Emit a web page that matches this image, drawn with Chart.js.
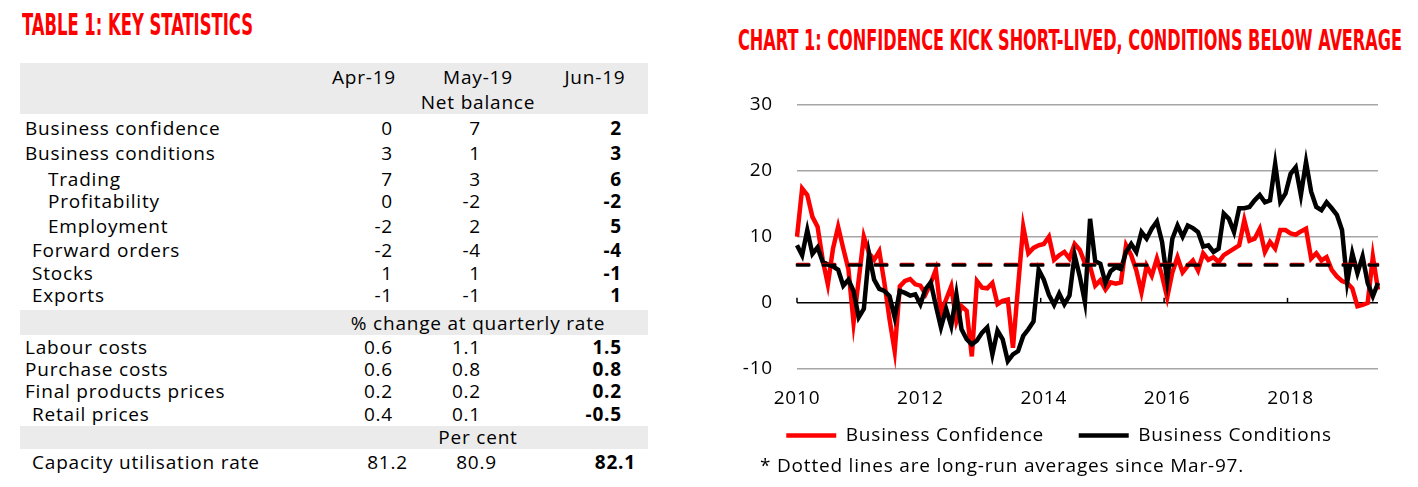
<!DOCTYPE html>
<html>
<head>
<meta charset="utf-8">
<script src="https://cdn.jsdelivr.net/npm/chart.js@4.4.1/dist/chart.umd.min.js"></script>
<style>
body { margin:0; width:1418px; height:487px; background:#fff; position:relative; overflow:hidden; font-family:"Open Sans", sans-serif; color:#000; }
.ttl { position:absolute; color:#ff0000; font-family:"Liberation Sans Narrow","DejaVu Sans Condensed",sans-serif; font-weight:bold; white-space:nowrap; transform-origin:0 0; line-height:1; }
.band { position:absolute; left:20px; width:628px; background:#ebebeb; }
.txt { position:absolute; font-size:19px; letter-spacing:0.8px; line-height:22px; white-space:nowrap; }
#wrap { position:absolute; left:740px; top:69px; width:678px; height:386px; }
#note { position:absolute; left:760px; top:452px; font-size:19px; letter-spacing:0.8px; white-space:nowrap; }
</style>
</head>
<body>
<div class="ttl" data-w="231" style="left:22px; top:10px; font-size:30px;">TABLE 1: KEY STATISTICS</div>
<div class="ttl" data-w="664" style="left:738px; top:26px; font-size:29px;">CHART 1: CONFIDENCE KICK SHORT-LIVED, CONDITIONS BELOW AVERAGE</div>
<div id="table"></div>
<div id="wrap"><canvas id="chart1"></canvas></div>
<div id="note">* Dotted lines are long-run averages since Mar-97.</div>
<script>
// table
const colHeads = ['Apr-19', 'May-19', 'Jun-19'];
const bandTexts = ['Net balance', '% change at quarterly rate', 'Per cent'];
const rowLabels = ['Business confidence', 'Business conditions', 'Trading', 'Profitability', 'Employment',
    'Forward orders', 'Stocks', 'Exports', 'Labour costs', 'Purchase costs', 'Final products prices',
    'Retail prices', 'Capacity utilisation rate'];
const apr19 = ['0', '3', '7', '0', '-2', '-2', '1', '-1', '0.6', '0.6', '0.2', '0.4', '81.2'];
const may19 = ['7', '1', '3', '-2', '2', '-4', '1', '-1', '1.1', '0.8', '0.2', '0.1', '80.9'];
const jun19 = ['2', '3', '6', '-2', '5', '-4', '-1', '1', '1.5', '0.8', '0.2', '-0.5', '82.1'];

// chart
const years = ['2010', '2011', '2012', '2013', '2014', '2015', '2016', '2017', '2018', '2019'];
const tickYears = ['2010', '2012', '2014', '2016', '2018'];
const confidence = [
    10, 17.3, 16.3, 13, 11.5, 6.5, 2.8, 8.2, 11.5, 8.2, 5.1, -3,          // 2010
    3.5, 10, 7.5, 6.5, 7.8, 3, -2.5, -7.3, 2.5, 3.3, 3.6, 2.8,           // 2011
    2.6, 1.3, 3, 5, -1.5, 0.5, 2.5, -2.8, -0.5, -1.2, -8.1, 3.3,         // 2012
    2.3, 2.2, 3, -0.2, 0.3, 0.5, -6.8, 2.5, 11.5, 7.5, 8.3, 8.7,         // 2013
    8.9, 10, 6.5, 7.2, 7.7, 6.7, 8.9, 8, 6, 5.5, 2.6, 3.4,               // 2014
    2, 3.1, 2.9, 3.1, 8.7, 7.2, 4.9, 1.6, 5.6, 4.1, 6.7, 4.1,            // 2015
    0.8, 4.6, 6.9, 4.6, 5.6, 6.4, 4.9, 7.5, 6.5, 6.9, 6.2, 7.2,          // 2016
    7.7, 8.2, 8.7, 12.5, 9.4, 9.7, 11.2, 7.7, 9.2, 8.2, 11, 11,          // 2017
    10.5, 10.3, 10.8, 11.2, 6.7, 7.5, 6.4, 6.9, 5, 4, 3.3, 3,            // 2018
    2.2, -0.5, -0.3, 0, 7, 2                                             // 2019
];
const conditions = [
    8.7, 7.2, 11, 7.4, 8.4, 6.2, 5.8, 5.5, 5, 2.6, 3.5, 1.8,
    -2.2, -0.9, 7.4, 3.5, 2.1, 1.8, 1, -2.2, 1.8, 1.5, 1.1, 1.3,
    -0.2, 2.1, 3.1, -0.4, -3.7, -0.9, -3.5, 1.3, -4, -5.5, -6.3, -5.7,
    -4.5, -3.7, -7.8, -4.2, -5.5, -8.8, -7.8, -7.3, -5, -4, -2.8, 5,
    3.5, 1.2, -0.3, 1.4, -0.2, 1.1, 7.2, 4, 0.1, 12.7, 6.3, 5.9,
    3, 4.8, 5.4, 5.1, 7.7, 8.9, 7.7, 10.7, 9.7, 11.2, 12.3, 9.2,
    3.4, 9.7, 11.7, 10, 11.7, 11.3, 10.7, 8.5, 8.7, 7.7, 8.2, 13.5,
    12.7, 10.7, 14.3, 14.3, 14.5, 15.5, 16.3, 15.2, 15.5, 21, 15.3, 16.5,
    19.5, 20.5, 16.3, 21.3, 16.8, 14.5, 14, 15.2, 14.3, 13.3, 11, 3.1,
    7.5, 4.5, 7, 3, 1, 3
];
const confidenceAvg = 5.85;
const conditionsAvg = 5.7;

var labels = [];
years.forEach(function (y) {
    for (let m = 1; m <= 12; m++) {
        if (labels.length < confidence.length) labels.push(y + '-' + (m < 10 ? '0' : '') + m);
    }
});

// build the table
var tbl = document.getElementById('table');
function addText(html, left, top, extra) {
    var d = document.createElement('div');
    d.className = 'txt';
    d.innerHTML = html;
    d.style.left = left + 'px';
    d.style.top = (top - 11) + 'px';
    if (extra) d.style.cssText += extra;
    tbl.appendChild(d);
    return d;
}
function addRight(text, right, top, bold) {
    return addText(text, 0, top, 'text-align:right;width:' + right + 'px;' + (bold ? 'font-weight:bold;' : ''));
}
function addCenter(text, cx, top) {
    return addText(text, cx - 150, top, 'text-align:center;width:300px;');
}
[[63, 51], [310, 25], [426, 23]].forEach(function (b) {
    var d = document.createElement('div');
    d.className = 'band';
    d.style.top = b[0] + 'px';
    d.style.height = b[1] + 'px';
    tbl.appendChild(d);
});
var headX = [364, 478, 595];
colHeads.forEach(function (h, i) { addCenter(h, headX[i], 77); });
addCenter(bandTexts[0], 478, 102);
addCenter(bandTexts[1], 478, 323);
addCenter(bandTexts[2], 478, 437);

var rowY = [128, 153, 179, 201, 226, 250, 273, 295, 347, 369, 391, 414, 462];
var rowX = [25, 25, 48, 48, 48, 32, 32, 32, 25, 25, 25, 32, 32];
rowLabels.forEach(function (name, i) {
    addText(name, rowX[i], rowY[i]);
    var last = i === rowLabels.length - 1;
    addRight(apr19[i], last ? 408 : 393, rowY[i]);
    addRight(may19[i], last ? 497 : 481, rowY[i]);
    addRight(jun19[i], last ? 636 : 622, rowY[i], true);
});

// squeeze the condensed titles to width
document.querySelectorAll('.ttl').forEach(function (el) {
    var w = el.getBoundingClientRect().width;
    el.style.transform = 'scaleX(' + (el.dataset.w / w) + ')';
});

// canvas resets letterSpacing whenever it is resized, so set it before layout and draw
const spacing = {
    id: 'spacing',
    beforeUpdate(chart) { chart.ctx.letterSpacing = '0.8px'; },
    beforeDraw(chart) { chart.ctx.letterSpacing = '0.8px'; }
};

// little tick marks sitting on the zero line
const zeroTicks = {
    id: 'zeroTicks',
    beforeDatasetsDraw(chart) {
        const x = chart.scales.x, y = chart.scales.y, ctx = chart.ctx;
        const y0 = y.getPixelForValue(0);
        const step = x.getPixelForValue(1) - x.getPixelForValue(0);
        ctx.save();
        ctx.strokeStyle = '#000';
        ctx.lineWidth = 1.5;
        tickYears.forEach(function (yr) {
            const i = labels.indexOf(yr + '-01');
            const px = i === 0 ? x.getPixelForValue(0) : x.getPixelForValue(i) - step * 0.6;
            ctx.beginPath();
            ctx.moveTo(px, y0);
            ctx.lineTo(px, y0 - 5);
            ctx.stroke();
        });
        ctx.restore();
    }
};

const fontFam = '"Open Sans", sans-serif';
const ctx1 = document.getElementById('chart1').getContext('2d');
new Chart(ctx1, {
    type: 'line',
    data: {
        labels: labels,
        datasets: [
            { label: 'Business Confidence', data: confidence, borderColor: '#ff0000', backgroundColor: '#ff0000',
              borderWidth: 4.5, pointRadius: 0, order: 4 },
            { label: 'Business Conditions', data: conditions, borderColor: '#000', backgroundColor: '#000',
              borderWidth: 4.5, pointRadius: 0, order: 3 },
            { label: 'conf avg', data: [{ x: labels[0], y: confidenceAvg }, { x: labels[labels.length - 1], y: confidenceAvg }],
              borderColor: '#c00000', borderWidth: 3, borderDash: [12, 14], borderCapStyle: 'round', pointRadius: 0, order: 2 },
            { label: 'cond avg', data: [{ x: labels[0], y: conditionsAvg }, { x: labels[labels.length - 1], y: conditionsAvg }],
              borderColor: '#000', borderWidth: 3, borderDash: [12, 14], borderCapStyle: 'round', pointRadius: 0, order: 1 }
        ]
    },
    options: {
        responsive: true,
        maintainAspectRatio: false,
        animation: false,
        layout: { padding: { left: 0, right: 40, top: 0, bottom: 0 } },
        plugins: {
            tooltip: { enabled: false },
            legend: {
                position: 'bottom',
                labels: {
                    usePointStyle: true,
                    pointStyle: 'line',
                    pointStyleWidth: 50,
                    color: '#000',
                    padding: 6,
                    font: { family: fontFam, size: 19 },
                    filter: (item) => item.datasetIndex < 2,
                    sort: (a, b) => a.datasetIndex - b.datasetIndex,
                    generateLabels: function (chart) {
                        const items = Chart.defaults.plugins.legend.labels.generateLabels(chart);
                        // wider gap after the first entry, as in the original
                        items.forEach(function (it) { if (it.datasetIndex === 0) it.text += '     '; });
                        return items;
                    }
                }
            }
        },
        scales: {
            x: {
                grid: { display: false },
                border: { display: false },
                ticks: {
                    autoSkip: false,
                    maxRotation: 0,
                    padding: 12,
                    color: '#000',
                    font: { family: fontFam, size: 19, lineHeight: 1 },
                    callback: function (value, index) {
                        const l = labels[index];
                        return (l.slice(5) === '01' && tickYears.includes(l.slice(0, 4))) ? l.slice(0, 4) : '';
                    }
                }
            },
            y: {
                min: -10,
                max: 30,
                afterFit: function (s) { s.width = 57; },
                border: { display: false },
                grid: {
                    drawTicks: false,
                    lineWidth: 1.5,
                    color: (c) => c.tick.value === 0 ? '#000' : '#a6a6a6'
                },
                ticks: {
                    stepSize: 10,
                    padding: 24,
                    color: '#000',
                    font: { family: fontFam, size: 19 }
                }
            }
        }
    },
    plugins: [spacing, zeroTicks]
});
</script>
</body>
</html>
